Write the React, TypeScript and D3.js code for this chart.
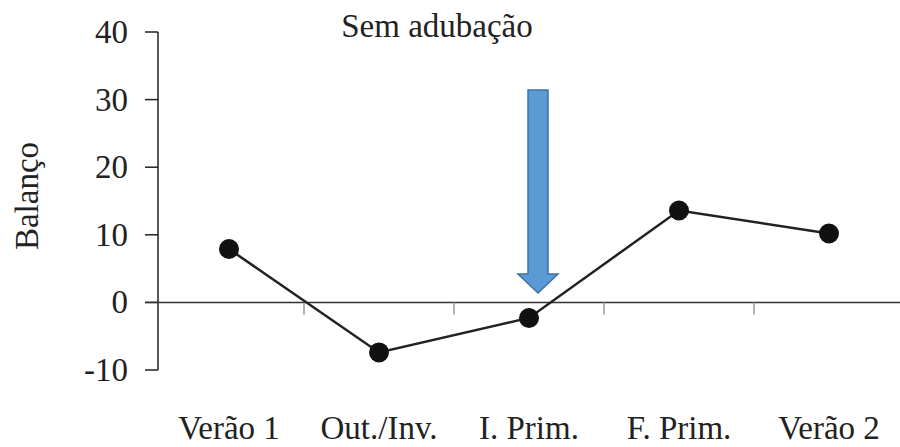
import React from "react";
import * as d3 from "d3";

const categories = ["Verão 1", "Out./Inv.", "I. Prim.", "F. Prim.", "Verão 2"];
const values = [7.9, -7.4, -2.3, 13.6, 10.2];
const yTicks = [-10, 0, 10, 20, 30, 40];
const title = "Sem adubação";
const yLabel = "Balanço";
const arrowCategory = "I. Prim.";

export default function App() {
  const W = 900, H = 447;
  const axisX = 158;
  const x = d3.scaleBand<string>().domain(categories).range([154, 904]);
  const y = d3.scaleLinear().domain([-10, 40]).range([370, 32]);
  const line = d3.line<number>().x((_, i) => x(categories[i])! + x.bandwidth() / 2).y(d => y(d));
  const ts: React.CSSProperties = { fontFamily: "'Liberation Serif', 'Times New Roman', Times, serif", fontSize: 33, fill: "#222" };
  const ax = x(arrowCategory)! + x.bandwidth() / 2 + 9;
  const top = 90, headBase = 274, tip = 293;
  const arrowPath = `M${ax - 10},${top} L${ax + 10},${top} L${ax + 10},${headBase} L${ax + 20},${headBase} L${ax},${tip} L${ax - 20},${headBase} L${ax - 10},${headBase} Z`;
  return (
    <svg width={W} height={H} style={{ position: "absolute", left: 0, top: 0 }}>
      <rect width={W} height={H} fill="white" />
      <text x={437} y={37} style={ts} textAnchor="middle">{title}</text>
      <text transform={`translate(38,196) rotate(-90)`} style={ts} textAnchor="middle">{yLabel}</text>
      <line x1={axisX} x2={axisX} y1={y(40)} y2={y(-10)} stroke="#222" strokeWidth={1.5} />
      {yTicks.map(t => (
        <g key={t}>
          <line x1={145} x2={axisX} y1={y(t)} y2={y(t)} stroke="#222" strokeWidth={1.5} />
          <text x={128} y={y(t) + 11} style={ts} textAnchor="end">{t}</text>
        </g>
      ))}
      <line x1={145} x2={900} y1={y(0)} y2={y(0)} stroke="#333" strokeWidth={1.5} />
      {categories.slice(1).map(c => (
        <line key={c} x1={x(c)!} x2={x(c)!} y1={y(0)} y2={y(0) + 12} stroke="#999" strokeWidth={1.5} />
      ))}
      {categories.map(c => (
        <text key={c} x={x(c)! + x.bandwidth() / 2} y={439} style={ts} textAnchor="middle">{c}</text>
      ))}
      <path d={line(values)!} fill="none" stroke="#222" strokeWidth={2.5} />
      {values.map((v, i) => (
        <circle key={i} cx={x(categories[i])! + x.bandwidth() / 2} cy={y(v)} r={10} fill="#111" />
      ))}
      <path d={arrowPath} fill="#5b9bd5" stroke="#41719c" strokeWidth={1.5} />
    </svg>
  );
}
